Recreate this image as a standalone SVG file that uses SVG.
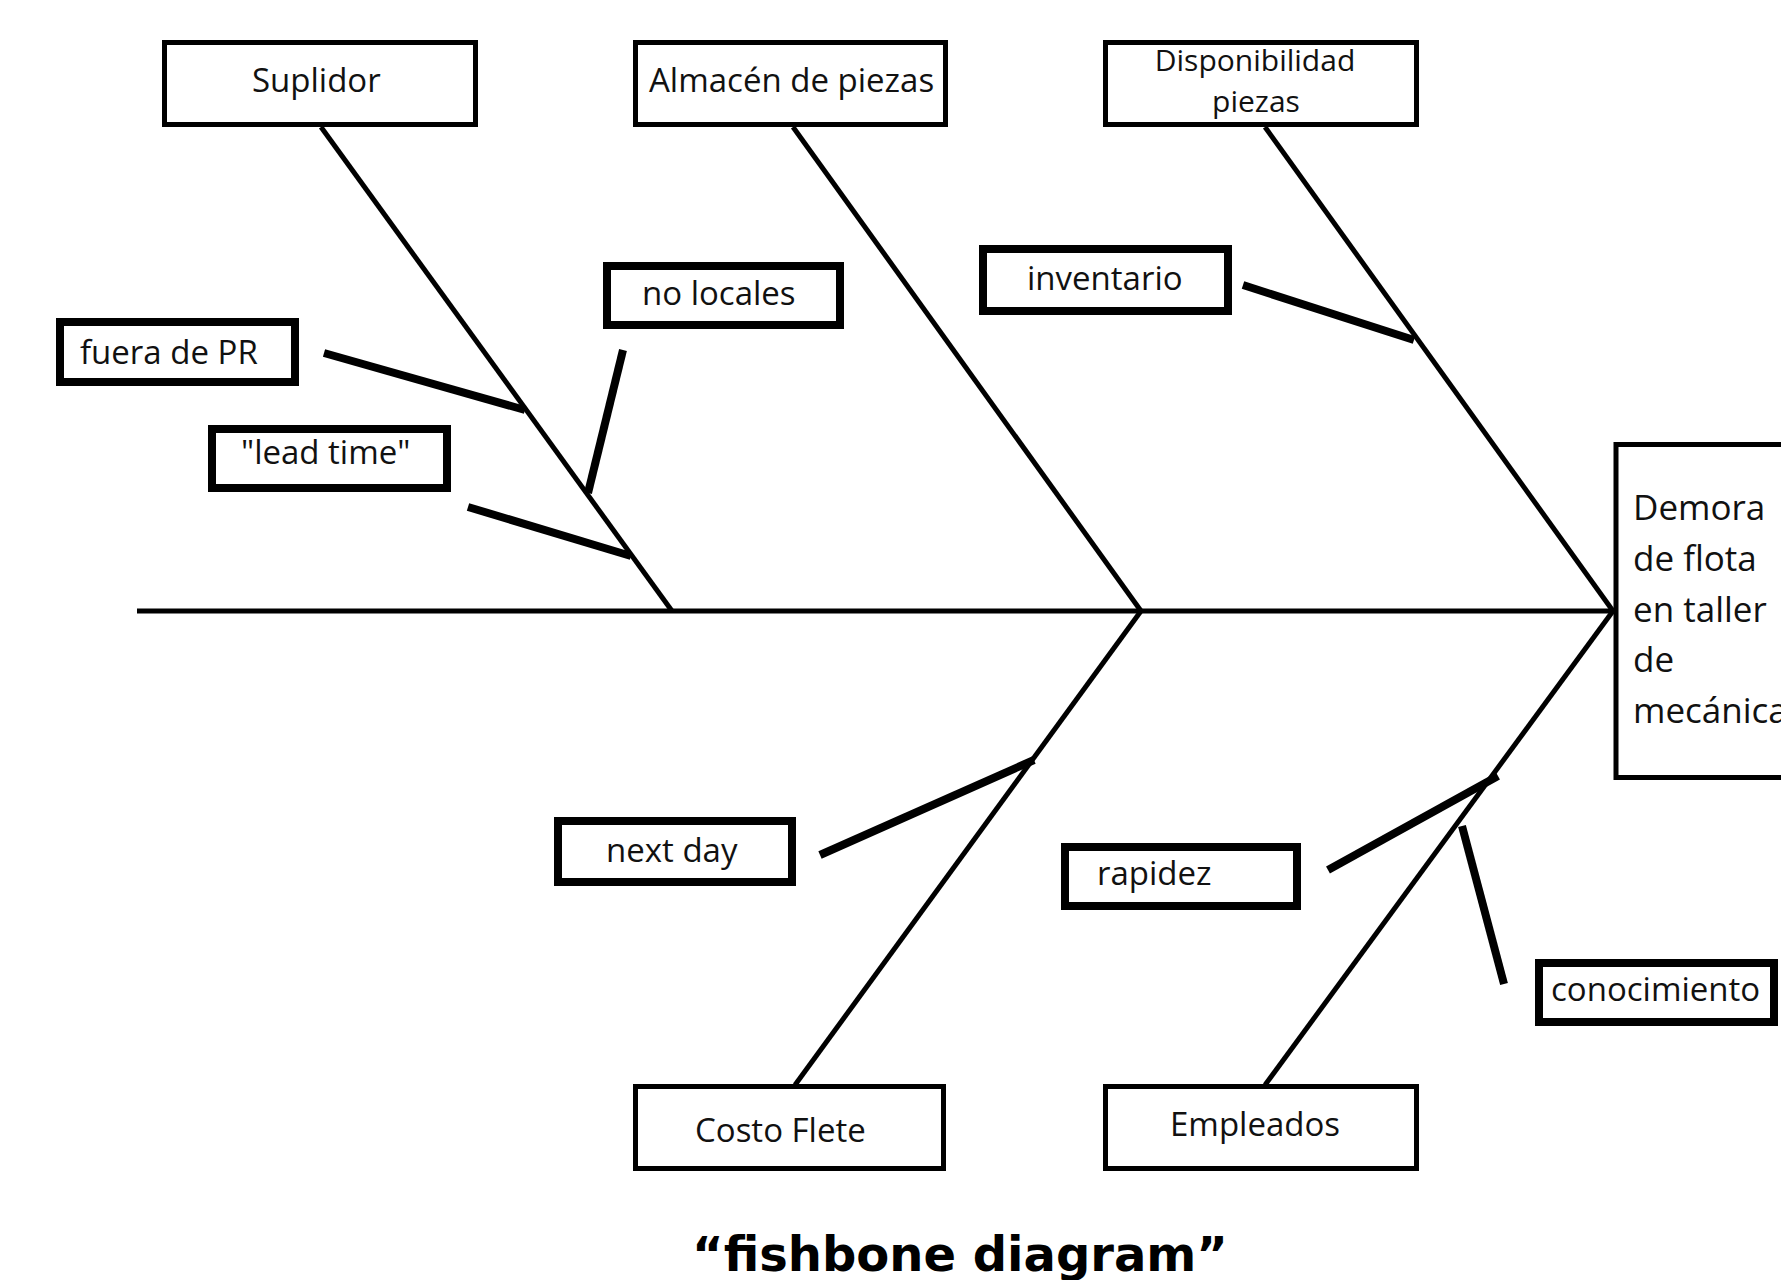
<svg xmlns="http://www.w3.org/2000/svg" width="1781" height="1280" viewBox="0 0 1781 1280">
<style>
.cat{fill:#fff;stroke:#000;stroke-width:5}
.sub{fill:#fff;stroke:#000;stroke-width:8}
.bone{stroke:#000;stroke-width:5;fill:none;stroke-linecap:butt}
.twig{stroke:#000;stroke-width:8;fill:none;stroke-linecap:butt}
.t{font-family:"Open Sans","Noto Sans",sans-serif;font-size:33px;fill:#111}
.t2{font-family:"Open Sans","Noto Sans",sans-serif;font-size:30px;fill:#111}
.te{font-family:"Open Sans","Noto Sans",sans-serif;font-size:35px;fill:#111}
.title{font-family:"DejaVu Sans",sans-serif;font-size:48px;font-weight:bold;fill:#000}
</style>
<rect width="1781" height="1280" fill="#fff"/>
<g id="connectors">
<line class="bone" x1="137" y1="611" x2="1616" y2="611"/>
<line class="bone" x1="321" y1="127" x2="672" y2="611"/>
<line class="bone" x1="793" y1="127" x2="1141" y2="611"/>
<line class="bone" x1="1265" y1="127" x2="1613" y2="611"/>
<line class="bone" x1="1141" y1="611" x2="795" y2="1085"/>
<line class="bone" x1="1613" y1="611" x2="1265" y2="1085"/>
<line class="twig" x1="324" y1="353" x2="525" y2="410"/>
<line class="twig" x1="468" y1="507" x2="631" y2="556"/>
<line class="twig" x1="623" y1="350" x2="588" y2="493"/>
<line class="twig" x1="1243" y1="285" x2="1414" y2="340"/>
<line class="twig" x1="820" y1="855" x2="1034" y2="760"/>
<line class="twig" x1="1328" y1="870" x2="1498" y2="776"/>
<line class="twig" x1="1504" y1="984" x2="1462" y2="826"/>
</g>
<g id="suplidor"><rect class="cat" x="164.5" y="42.5" width="311" height="82"/><text class="t" x="252" y="92">Suplidor</text></g>
<g id="almacen"><rect class="cat" x="635.5" y="42.5" width="310" height="82"/><text class="t" x="649" y="92">Almacén de piezas</text></g>
<g id="disponibilidad"><rect class="cat" x="1105.5" y="42.5" width="311" height="82"/><text class="t2" x="1255" y="71" text-anchor="middle">Disponibilidad</text><text class="t2" x="1256" y="112" text-anchor="middle">piezas</text></g>
<g id="costo"><rect class="cat" x="635.5" y="1086.5" width="308" height="82"/><text class="t" x="695" y="1142">Costo Flete</text></g>
<g id="empleados"><rect class="cat" x="1105.5" y="1086.5" width="311" height="82"/><text class="t" x="1170" y="1136">Empleados</text></g>
<g id="efecto"><rect class="cat" x="1616" y="444.5" width="200" height="333"/>
<text class="te" x="1633" y="520">Demora</text>
<text class="te" x="1633" y="571">de flota</text>
<text class="te" x="1633" y="622">en taller</text>
<text class="te" x="1633" y="672">de</text>
<text class="te" x="1633" y="723">mecánica</text></g>
<g id="nolocales"><rect class="sub" x="607" y="266" width="233" height="59"/><text class="t" x="642" y="305">no locales</text></g>
<g id="fuera"><rect class="sub" x="60" y="322" width="235" height="60"/><text class="t" x="80" y="364">fuera de PR</text></g>
<g id="leadtime"><rect class="sub" x="212" y="429" width="235" height="59"/><text class="t" x="241" y="464">"lead time"</text></g>
<g id="inventario"><rect class="sub" x="983" y="249" width="245" height="62"/><text class="t" x="1027" y="290">inventario</text></g>
<g id="nextday"><rect class="sub" x="558" y="821" width="234" height="61"/><text class="t" x="606" y="862">next day</text></g>
<g id="rapidez"><rect class="sub" x="1065" y="847" width="232" height="59"/><text class="t" x="1097" y="885">rapidez</text></g>
<g id="conocimiento"><rect class="sub" x="1539" y="963" width="235" height="59"/><text class="t" x="1551" y="1001">conocimiento</text></g>
<text class="title" x="960" y="1271" text-anchor="middle">“fishbone diagram”</text>
</svg>
